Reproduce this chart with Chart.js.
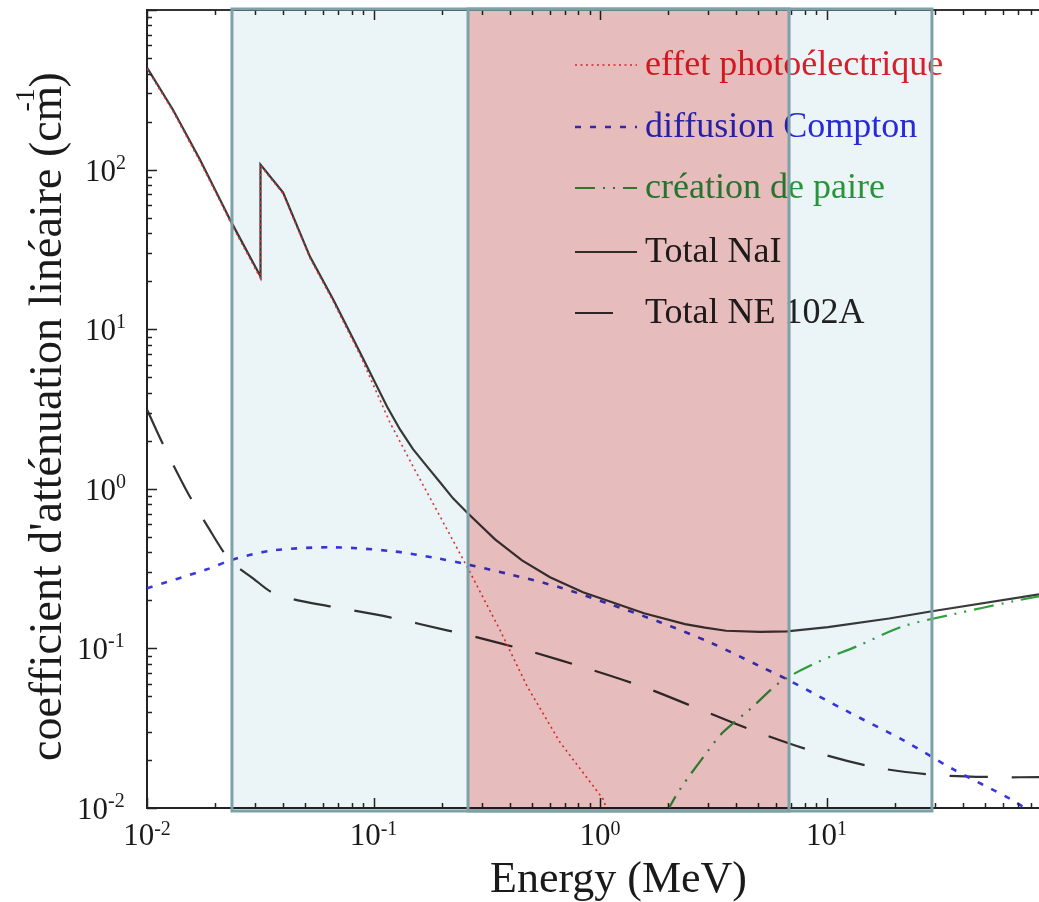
<!DOCTYPE html>
<html>
<head>
<meta charset="utf-8">
<script src="https://cdn.jsdelivr.net/npm/chart.js@4.4.1/dist/chart.umd.min.js"></script>
<style>
  html, body { margin: 0; padding: 0; background: #fff; }
  #wrap { width: 1039px; height: 902px; }
</style>
</head>
<body>
<div id="wrap"><canvas id="c" width="1039" height="902"></canvas></div>
<script>
// Photon energies in MeV, linear attenuation coefficients in cm^-1
const photoEnergy = [0.01, 0.0130, 0.0171, 0.0210, 0.0235, 0.0317, 0.0317, 0.0399, 0.0524, 0.0663, 0.0872, 0.1182, 0.152, 0.1966, 0.2667, 0.362, 0.4762, 0.666, 1.031, 1.08];
const photoMu     = [428, 233, 113, 63.5, 46, 20.8, 106, 70.5, 27.9, 15.0, 6.9, 2.6, 1.32, 0.672, 0.300, 0.130, 0.058, 0.0258, 0.0114, 0.0095];

const comptonEnergy = [0.01, 0.0184, 0.0240, 0.0360, 0.0663, 0.1219, 0.1908, 0.2587, 0.4005, 0.666, 1.107, 1.840, 3.06, 5.087, 6.69, 12.32, 22.22, 36.18, 64.6, 86.7];
const comptonMu     = [0.238, 0.313, 0.361, 0.411, 0.430, 0.406, 0.367, 0.336, 0.291, 0.241, 0.189, 0.146, 0.109, 0.0772, 0.0640, 0.0404, 0.0262, 0.0175, 0.0114, 0.0088];

const pairEnergy = [1.95, 2.255, 2.968, 3.49, 4.596, 6.232, 9.08, 13.64, 21.77, 36.18, 66.6, 86.7];
const pairMu     = [0.0092, 0.0131, 0.0224, 0.0298, 0.0416, 0.0613, 0.0818, 0.1031, 0.1375, 0.1635, 0.1972, 0.2120];

const naiEnergy = [0.01, 0.0130, 0.0171, 0.0210, 0.0235, 0.0317, 0.0317, 0.0399, 0.0524, 0.0663, 0.0872, 0.1147, 0.1309, 0.1494, 0.1722, 0.1966, 0.2244, 0.2587, 0.344, 0.4525, 0.6015, 0.841, 1.165, 1.564, 2.373, 2.908, 3.60, 5.087, 6.69, 10.15, 18.88, 29.23, 86.7];
const naiMu     = [435, 238, 116, 65, 47.2, 21.4, 107.5, 71.8, 28.5, 15.4, 7.15, 3.28, 2.355, 1.77, 1.381, 1.10, 0.871, 0.711, 0.482, 0.356, 0.279, 0.225, 0.192, 0.166, 0.142, 0.135, 0.129, 0.127, 0.128, 0.136, 0.154, 0.171, 0.218];

const neEnergy = [0.01, 0.01177, 0.01502, 0.0184, 0.02325, 0.02938, 0.03563, 0.04642, 0.06425, 0.1182, 0.2112, 0.2749, 0.4909, 0.903, 1.612, 2.968, 5.243, 9.65, 17.23, 31.7, 58.3, 86.7];
const neMu     = [3.14, 1.90, 0.963, 0.590, 0.356, 0.275, 0.2245, 0.200, 0.1835, 0.1565, 0.1298, 0.1191, 0.0959, 0.0740, 0.0563, 0.0398, 0.0290, 0.0217, 0.01775, 0.01604, 0.0156, 0.0156];

const seriesLabels = ['effet photoélectrique', 'diffusion Compton', 'création de paire', 'Total NaI', 'Total NE 102A'];

// Axis decades carrying a label (power of ten)
const xTickPowers = [-2, -1, 0, 1];
const yTickPowers = [-2, -1, 0, 1, 2];
const energyRange = [0.01, 86.7];
const muRange = [0.01, 1000];

// Energy bands (MeV): outer band [0] to [3], inner band [1] to [2]
const bandEdges = [0.02372, 0.2614, 6.83, 29.2];

const xTitle = 'Energy (MeV)';
const yTitle = "coefficient d'atténuation linéaire (cm";
const yTitleExp = '-1';

function toPoints(xs, ys) { return xs.map((x, i) => ({ x: x, y: ys[i] })); }

const SERIF = "'Liberation Serif', 'Times New Roman', serif";

const decorPlugin = {
  id: 'decor',
  beforeDraw(chart) {
    const ctx = chart.ctx;
    ctx.save();
    ctx.fillStyle = '#ffffff';
    ctx.fillRect(0, 0, chart.width, chart.height);
    ctx.restore();
  },
  afterDraw(chart) {
    const ctx = chart.ctx;
    const xs = chart.scales.x, ys = chart.scales.y;
    const a = chart.chartArea;
    ctx.save();

    // inward tick marks on left, bottom and top
    ctx.strokeStyle = '#222';
    ctx.lineWidth = 1.5;
    ctx.beginPath();
    for (let d = -2; d <= 3; d++) {
      for (let m = 1; m <= 9; m++) {
        const v = m * Math.pow(10, d);
        if (v < muRange[0] - 1e-12 || v > muRange[1] + 1e-9) continue;
        const py = Math.round(ys.getPixelForValue(v)) + 0.5;
        const len = m === 1 ? 10 : 5;
        ctx.moveTo(a.left, py); ctx.lineTo(a.left + len, py);
      }
    }
    for (let d = -2; d <= 2; d++) {
      for (let m = 1; m <= 9; m++) {
        const v = m * Math.pow(10, d);
        if (v < energyRange[0] - 1e-12 || v > energyRange[1]) continue;
        const px = Math.round(xs.getPixelForValue(v)) + 0.5;
        const len = m === 1 ? 10 : 5;
        ctx.moveTo(px, a.bottom); ctx.lineTo(px, a.bottom - len);
        ctx.moveTo(px, a.top); ctx.lineTo(px, a.top + len);
      }
    }
    ctx.stroke();

    // tick labels: 10 with a raised power
    ctx.fillStyle = '#1a1a1a';
    ctx.textBaseline = 'alphabetic';
    const baseFont = '31px ' + SERIF, expFont = '20px ' + SERIF;
    xTickPowers.forEach(p => {
      const px = xs.getPixelForValue(Math.pow(10, p));
      const e = String(p);
      ctx.font = baseFont; const w1 = ctx.measureText('10').width;
      ctx.font = expFont; const w2 = ctx.measureText(e).width;
      const x0 = px - (w1 + w2) / 2;
      ctx.font = baseFont; ctx.textAlign = 'left';
      ctx.fillText('10', x0, a.bottom + 37);
      ctx.font = expFont;
      ctx.fillText(e, x0 + w1, a.bottom + 27);
    });
    yTickPowers.forEach(p => {
      const py = ys.getPixelForValue(Math.pow(10, p));
      const e = String(p);
      const x0 = a.left - 62 - (p < 0 ? 8 : 0);
      ctx.font = baseFont; ctx.textAlign = 'left';
      const w1 = ctx.measureText('10').width;
      ctx.fillText('10', x0, py + 11);
      ctx.font = expFont;
      ctx.fillText(e, x0 + w1, py - 1);
    });

    // axis titles
    ctx.fillStyle = '#1a1a1a';
    ctx.font = '44px ' + SERIF;
    ctx.textAlign = 'left';
    ctx.fillText(xTitle, 490, 892);

    ctx.save();
    ctx.translate(61, 761);
    ctx.rotate(-Math.PI / 2);
    ctx.font = '46px ' + SERIF;
    ctx.fillText(yTitle, 0, 0);
    const wt = ctx.measureText(yTitle).width;
    ctx.fillText(')', wt - 2, 0);
    ctx.font = '28px ' + SERIF;
    ctx.fillText(yTitleExp, wt - 26, -27);
    ctx.restore();

    // legend
    const rowBase = [75, 137, 198, 262, 323];
    chart.data.datasets.forEach((ds, i) => {
      const yb = rowBase[i];
      ctx.save();
      ctx.strokeStyle = ds.borderColor;
      ctx.lineWidth = ds.borderWidth;
      ctx.setLineDash(ds.borderDash || []);
      ctx.beginPath();
      ctx.moveTo(575, yb - 10); ctx.lineTo(637, yb - 10);
      ctx.stroke();
      ctx.restore();
      ctx.font = '36px ' + SERIF;
      ctx.fillStyle = ds.legendTextColor;
      ctx.textAlign = 'left';
      ctx.fillText(ds.label, 645, yb);
    });

    // shaded energy bands, blended over everything drawn so far
    const b0 = xs.getPixelForValue(bandEdges[0]);
    const b1 = xs.getPixelForValue(bandEdges[1]);
    const b2 = xs.getPixelForValue(bandEdges[2]);
    const b3 = xs.getPixelForValue(bandEdges[3]);
    const top = a.top - 1, bot = a.bottom + 3;
    ctx.globalCompositeOperation = 'multiply';
    ctx.fillStyle = '#ebf5f7';
    ctx.fillRect(b0, top, b1 - b0, bot - top);
    ctx.fillRect(b2, top, b3 - b2, bot - top);
    ctx.fillStyle = '#e6bcbc';
    ctx.fillRect(b1, top, b2 - b1, bot - top);
    ctx.globalCompositeOperation = 'source-over';
    ctx.strokeStyle = '#7da1a7';
    ctx.lineWidth = 3;
    ctx.strokeRect(b0, top, b3 - b0, bot - top);
    ctx.strokeRect(b1, top, b2 - b1, bot - top);

    ctx.restore();
  }
};

const fixedAxis = (size, isY) => function (scale) { if (isY) scale.width = size; else scale.height = size; };

new Chart(document.getElementById('c'), {
  type: 'line',
  data: {
    datasets: [
      {
        label: seriesLabels[0], data: toPoints(photoEnergy, photoMu),
        borderColor: '#ef3434', borderWidth: 1.6, borderDash: [2, 3.5], tension: 0,
        legendTextColor: '#e8202a'
      },
      {
        label: seriesLabels[1], data: toPoints(comptonEnergy, comptonMu),
        borderColor: '#3a36e0', borderWidth: 2.6, borderDash: [6, 9], tension: 0.3,
        legendTextColor: '#2b2be0'
      },
      {
        label: seriesLabels[2], data: toPoints(pairEnergy, pairMu),
        borderColor: '#34a040', borderWidth: 2.2, borderDash: [20, 8, 2, 8, 2, 8], tension: 0.3,
        legendTextColor: '#2b9a3c'
      },
      {
        label: seriesLabels[3], data: toPoints(naiEnergy, naiMu),
        borderColor: '#3a3a3a', borderWidth: 2.2, borderDash: [], tension: 0,
        legendTextColor: '#222222'
      },
      {
        label: seriesLabels[4], data: toPoints(neEnergy, neMu),
        borderColor: '#333333', borderWidth: 2.2, borderDash: [38, 24], tension: 0.3,
        legendTextColor: '#222222'
      }
    ]
  },
  options: {
    responsive: false,
    animation: false,
    layout: { padding: 0 },
    elements: { point: { radius: 0 }, line: { fill: false } },
    plugins: { legend: { display: false }, tooltip: { enabled: false } },
    scales: {
      x: {
        type: 'logarithmic', position: 'bottom', min: energyRange[0], max: energyRange[1],
        ticks: { display: false }, grid: { display: false, drawTicks: false },
        border: { display: true, color: '#222', width: 2 },
        afterFit: fixedAxis(94, false)
      },
      x2: {
        type: 'logarithmic', position: 'top', min: energyRange[0], max: energyRange[1],
        ticks: { display: false }, grid: { display: false, drawTicks: false },
        border: { display: true, color: '#333', width: 2 },
        afterFit: fixedAxis(10, false)
      },
      y: {
        type: 'logarithmic', position: 'left', min: muRange[0], max: muRange[1],
        ticks: { display: false }, grid: { display: false, drawTicks: false },
        border: { display: true, color: '#222', width: 2 },
        afterFit: fixedAxis(147, true)
      }
    }
  },
  plugins: [decorPlugin]
});
</script>
</body>
</html>
